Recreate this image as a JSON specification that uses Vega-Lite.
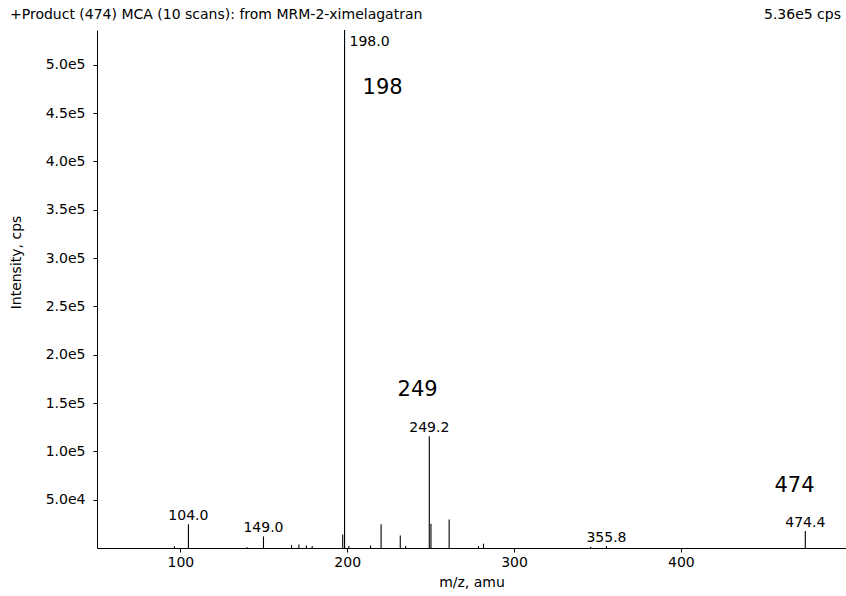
{
  "$schema": "https://vega.github.io/schema/vega-lite/v6.json",
  "width": 749,
  "height": 518,
  "autosize": {"type": "none"},
  "padding": {"left": 97, "top": 30, "right": 0, "bottom": 48},
  "background": "white",
  "config": {
    "view": {"stroke": null},
    "font": "DejaVu Sans",
    "axis": {"labelFont": "DejaVu Sans", "titleFont": "DejaVu Sans", "labelColor": "black", "titleColor": "black", "domainColor": "black", "tickColor": "black", "grid": false, "labelFontSize": 14, "titleFontSize": 14, "titleFontWeight": "normal"}
  },
  "datasets": {
    "peaks": [
      {"mz": 96.4, "intensity": 1800, "label": ""},
      {"mz": 104.8, "intensity": 24500, "label": "104.0"},
      {"mz": 140.0, "intensity": 800, "label": ""},
      {"mz": 149.8, "intensity": 12000, "label": "149.0"},
      {"mz": 166.6, "intensity": 3000, "label": ""},
      {"mz": 171.0, "intensity": 3500, "label": ""},
      {"mz": 175.5, "intensity": 2500, "label": ""},
      {"mz": 179.0, "intensity": 2000, "label": ""},
      {"mz": 197.3, "intensity": 14000, "label": ""},
      {"mz": 198.4, "intensity": 536000, "label": "198.0"},
      {"mz": 201.0, "intensity": 2000, "label": ""},
      {"mz": 214.0, "intensity": 2500, "label": ""},
      {"mz": 220.3, "intensity": 24500, "label": ""},
      {"mz": 231.8, "intensity": 13000, "label": ""},
      {"mz": 235.0, "intensity": 2000, "label": ""},
      {"mz": 249.2, "intensity": 115600, "label": "249.2"},
      {"mz": 250.2, "intensity": 25000, "label": ""},
      {"mz": 261.1, "intensity": 29600, "label": ""},
      {"mz": 278.7, "intensity": 2000, "label": ""},
      {"mz": 281.7, "intensity": 4500, "label": ""},
      {"mz": 346.0, "intensity": 1200, "label": ""},
      {"mz": 355.4, "intensity": 2000, "label": "355.8"},
      {"mz": 474.6, "intensity": 17500, "label": "474.4"}
    ],
    "notes": [
      {"mz": 221.2, "intensity": 469800, "text": "198"},
      {"mz": 242.2, "intensity": 157300, "text": "249"},
      {"mz": 468.1, "intensity": 57900, "text": "474"}
    ],
    "maxnote": [
      {"mz": 499, "intensity": 536000, "text": "5.36e5 cps"}
    ],
    "header": [
      {"mz": 50, "intensity": 536000, "text": "+Product (474) MCA (10 scans): from MRM-2-ximelagatran"}
    ]
  },
  "layer": [
    {
      "data": {"name": "peaks"},
      "mark": {"type": "rule", "color": "black", "strokeWidth": 1.1},
      "encoding": {
        "x": {"field": "mz", "type": "quantitative", "scale": {"domain": [50, 499], "nice": false, "zero": false},
          "axis": {"title": "m/z, amu", "values": [100, 200, 300, 400], "tickSize": 4, "labelPadding": 3, "titlePadding": 6, "labelFlush": false}},
        "y": {"field": "intensity", "type": "quantitative", "scale": {"domain": [0, 536000], "nice": false},
          "axis": {"title": "Intensity, cps", "values": [50000, 100000, 150000, 200000, 250000, 300000, 350000, 400000, 450000, 500000],
            "labelExpr": "replace(format(datum.value, '.1e'), '+', '')", "tickSize": 4, "labelPadding": 8, "titleX": -81, "titleY": 232, "titleAlign": "center", "titleBaseline": "middle", "labelFlush": false}},
        "y2": {"datum": 0}
      }
    },
    {
      "data": {"name": "peaks"},
      "transform": [{"filter": "datum.label != '' && datum.label != '198.0'"}],
      "mark": {"type": "text", "color": "black", "fontSize": 14, "align": "center", "baseline": "alphabetic", "dy": -4},
      "encoding": {
        "x": {"field": "mz", "type": "quantitative"},
        "y": {"field": "intensity", "type": "quantitative"},
        "text": {"field": "label"}
      }
    },
    {
      "data": {"name": "peaks"},
      "transform": [{"filter": "datum.label == '198.0'"}],
      "mark": {"type": "text", "color": "black", "fontSize": 14, "align": "left", "baseline": "alphabetic", "dx": 5, "dy": 16},
      "encoding": {
        "x": {"field": "mz", "type": "quantitative"},
        "y": {"field": "intensity", "type": "quantitative"},
        "text": {"field": "label"}
      }
    },
    {
      "data": {"name": "notes"},
      "mark": {"type": "text", "color": "black", "fontSize": 21, "align": "center", "baseline": "alphabetic"},
      "encoding": {
        "x": {"field": "mz", "type": "quantitative"},
        "y": {"field": "intensity", "type": "quantitative"},
        "text": {"field": "text"}
      }
    },
    {
      "data": {"name": "maxnote"},
      "mark": {"type": "text", "color": "black", "fontSize": 14, "align": "right", "baseline": "alphabetic", "dx": -5, "dy": -11},
      "encoding": {
        "x": {"field": "mz", "type": "quantitative"},
        "y": {"field": "intensity", "type": "quantitative"},
        "text": {"field": "text"}
      }
    },
    {
      "data": {"name": "header"},
      "mark": {"type": "text", "color": "black", "fontSize": 14, "align": "left", "baseline": "alphabetic", "dx": -87, "dy": -11},
      "encoding": {
        "x": {"field": "mz", "type": "quantitative"},
        "y": {"field": "intensity", "type": "quantitative"},
        "text": {"field": "text"}
      }
    }
  ]
}
